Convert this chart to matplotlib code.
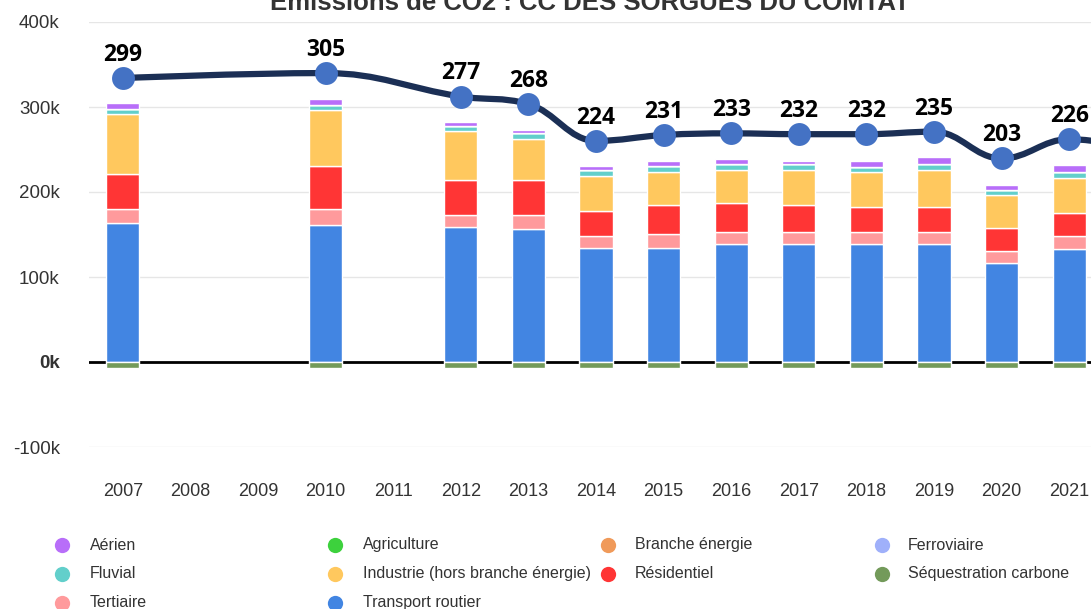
import numpy as np
import matplotlib
matplotlib.use("Agg")
import matplotlib.pyplot as plt
from matplotlib.path import Path
from matplotlib.patches import PathPatch
from matplotlib.lines import Line2D

plt.rcParams['font.family'] = ['Liberation Sans', 'DejaVu Sans']

nan = np.nan
years = ["2007", "2008", "2009", "2010", "2011", "2012", "2013", "2014",
         "2015", "2016", "2017", "2018", "2019", "2020", "2021", "2022"]

# values in kt CO2
transport   = [163.8, nan, nan, 161.4, nan, 159.4, 156.7, 134.4, 134.4, 138.7, 138.7, 138.7, 138.7, 116.1, 132.5, nan]
tertiaire   = [16.4, nan, nan, 18.3, nan, 13.7, 16.4, 14.1, 16.0, 14.5, 14.5, 14.5, 14.5, 14.0, 16.0, nan]
residentiel = [41.0, nan, nan, 50.4, nan, 41.4, 41.4, 29.7, 34.4, 34.0, 31.6, 29.7, 29.7, 27.3, 27.3, nan]
industrie   = [70.7, nan, nan, 66.1, nan, 56.7, 47.7, 41.0, 39.1, 39.1, 41.1, 40.5, 43.0, 39.2, 41.1, nan]
fluvial     = [6.3, nan, nan, 6.6, nan, 6.6, 7.0, 6.6, 6.6, 6.2, 6.6, 6.4, 6.6, 5.9, 6.2, nan]
ferroviaire = [0, nan, nan, 0, nan, 0, 0, 0, 0, 0, 0, 0, 0, 0, 0, nan]
branche     = [0, nan, nan, 0, nan, 0, 0, 0, 0, 0, 0, 0, 0, 0, 0, nan]
agriculture = [0, nan, nan, 0, nan, 0, 0, 0, 0, 0, 0, 0, 0, 0, 0, nan]
aerien      = [6.6, nan, nan, 6.7, nan, 4.4, 4.0, 4.3, 6.3, 6.7, 3.9, 7.0, 8.8, 6.2, 9.0, nan]
sequestration = [-7, nan, nan, -7, nan, -7, -7, -7, -7, -7, -7, -7, -7, -7, -7, nan]

totals = [299, nan, nan, 305, nan, 277, 268, 224, 231, 233, 232, 232, 235, 203, 226, 215]

colors = {
    "Aérien": "#b86ef9", "Agriculture": "#3dd13d", "Branche énergie": "#f09a5a",
    "Ferroviaire": "#9fb0fa", "Fluvial": "#62cfcb",
    "Industrie (hors branche énergie)": "#ffc85e", "Résidentiel": "#ff3535",
    "Séquestration carbone": "#739a5a", "Tertiaire": "#ff9a9c",
    "Transport routier": "#4285e2",
}
stack_order = [("Transport routier", transport), ("Tertiaire", tertiaire),
               ("Résidentiel", residentiel), ("Industrie (hors branche énergie)", industrie),
               ("Fluvial", fluvial), ("Ferroviaire", ferroviaire),
               ("Branche énergie", branche), ("Agriculture", agriculture),
               ("Aérien", aerien)]
legend_order = ["Aérien", "Agriculture", "Branche énergie", "Ferroviaire",
                "Fluvial", "Industrie (hors branche énergie)", "Résidentiel",
                "Séquestration carbone", "Tertiaire", "Transport routier"]

W, H = 1091, 609
fig = plt.figure(figsize=(W / 100, H / 100), dpi=100)
ax = fig.add_axes([89 / W, 162 / H, 1 - 89 / W, (447 - 22) / H])

x = np.arange(len(years))
bw = 0.49
cum = np.zeros(len(years))
for name, vals in stack_order:
    v = np.array(vals, dtype=float)
    m = ~np.isnan(v)
    ax.bar(x[m], v[m], bottom=cum[m], width=bw, color=colors[name],
           edgecolor="white", linewidth=1, zorder=2)
    cum[m] += v[m]
sq = np.array(sequestration, dtype=float)
m = ~np.isnan(sq)
ax.bar(x[m], sq[m], width=bw, color=colors["Séquestration carbone"],
       edgecolor="white", linewidth=1, zorder=2)

ax.set_ylim(-100, 400)
yt = [-100, 0, 100, 200, 300, 400]
ax.set_yticks(yt, labels=[f"{t}k" for t in yt])
for lab in ax.get_yticklabels():
    if lab.get_text() == "0k":
        lab.set_fontweight("bold")
ax.set_xticks(x, labels=years)
ax.tick_params(axis="y", length=0, pad=21, labelsize=13.5, labelcolor="#333333")
ax.tick_params(axis="x", length=0, pad=26, labelsize=13, labelcolor="#333333")
ax.grid(axis="y", color="#e6e6e6", linewidth=1, zorder=0)
ax.set_axisbelow(True)
ax.axhline(0, color="black", linewidth=2, zorder=1.5)
for s in ax.spines.values():
    s.set_visible(False)

# secondary hidden axis for the total line
a_, b_ = 0.985, 39.5
ax2 = ax.twinx()
ax2.set_ylim((-100 - b_) / a_, (400 - b_) / a_)
ax2.set_yticks([])
for s in ax2.spines.values():
    s.set_visible(False)

tv = np.array(totals, dtype=float)
mk = ~np.isnan(tv)
xs = x[mk].astype(float)
ys = tv[mk]


def spline_path(xs, ys, smoothing=1.5):
    denom = smoothing + 1
    n = len(xs)
    lc = [None] * n
    rc = [None] * n
    for i in range(n):
        px, py = xs[i], ys[i]
        if 0 < i < n - 1:
            lx, ly = xs[i - 1], ys[i - 1]
            nx_, ny_ = xs[i + 1], ys[i + 1]
            lcx = (smoothing * px + lx) / denom
            lcy = (smoothing * py + ly) / denom
            rcx = (smoothing * px + nx_) / denom
            rcy = (smoothing * py + ny_) / denom
            if rcx != lcx:
                corr = ((rcy - lcy) * (rcx - px)) / (rcx - lcx) + py - rcy
                lcy += corr
                rcy += corr
            if lcy > ly and lcy > py:
                lcy = max(ly, py); rcy = 2 * py - lcy
            elif lcy < ly and lcy < py:
                lcy = min(ly, py); rcy = 2 * py - lcy
            if rcy > ny_ and rcy > py:
                rcy = max(ny_, py); lcy = 2 * py - rcy
            elif rcy < ny_ and rcy < py:
                rcy = min(ny_, py); lcy = 2 * py - rcy
            lc[i] = (lcx, lcy)
            rc[i] = (rcx, rcy)
        else:
            lc[i] = rc[i] = (px, py)
    verts = [(xs[0], ys[0])]
    codes = [Path.MOVETO]
    for i in range(1, n):
        verts += [rc[i - 1], lc[i], (xs[i], ys[i])]
        codes += [Path.CURVE4] * 3
    return Path(verts, codes)


XMAX = -0.5 + (W - 89) / 67.6
ax2.add_patch(PathPatch(spline_path(xs, ys), fill=False, edgecolor="#1b2f55",
                        linewidth=4.5, capstyle="round", joinstyle="round", zorder=3))
ax2.plot(xs, ys, "o", ms=16.5, color="#4472c4", markeredgewidth=0, zorder=4)
for xi, yi in zip(xs, ys):
    if xi <= XMAX:
        ax2.annotate(f"{int(yi)}", (xi, yi), xytext=(0, 8), textcoords="offset points",
                     ha="center", va="bottom", fontsize=16.5, fontweight="bold",
                     family=["Open Sans", "DejaVu Sans"], color="black", zorder=5,
                     annotation_clip=False)

ax.set_xlim(-0.5, XMAX)
ax2.set_xlim(-0.5, XMAX)

# title (partly cut off at top in reference)
fig.text(590 / W, 1 - 10 / H, "Émissions de CO2 : CC DES SORGUES DU COMTAT",
         ha="center", va="baseline", fontsize=18.5, fontweight="bold", color="#333333")

# legend
col_mx = [62, 335, 608, 882]
col_tx = [90, 363, 635, 908]
row_y = [545, 573.5, 602.5]
for k, name in enumerate(legend_order):
    r, c = divmod(k, 4)
    fig.add_artist(Line2D([col_mx[c] / W], [1 - row_y[r] / H], marker="o", ms=11,
                          color=colors[name], markeredgewidth=0, linestyle="none",
                          transform=fig.transFigure))
    fig.text(col_tx[c] / W, 1 - row_y[r] / H, name, ha="left", va="center",
             fontsize=11.5, color="#333333")

fig.savefig("out.png", dpi=100)
